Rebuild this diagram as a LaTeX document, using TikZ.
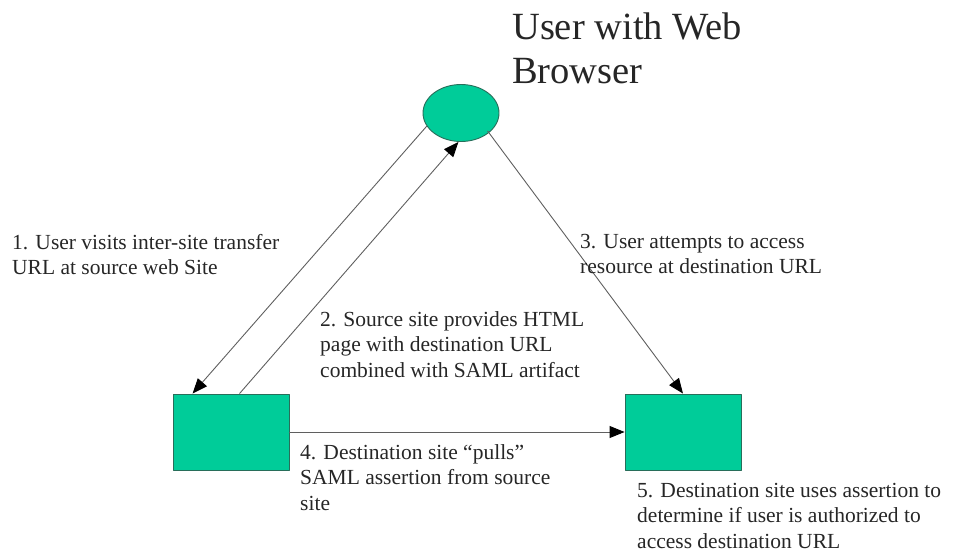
\documentclass[tikz,border=0pt]{standalone}
\usepackage{fontspec}
\setmainfont{Liberation Serif}
\usetikzlibrary{arrows.meta,shapes.geometric}
\definecolor{site}{RGB}{0,204,153}
\definecolor{siteline}{RGB}{40,110,90}
\definecolor{wire}{RGB}{95,95,95}
\begin{document}
\begin{tikzpicture}[x=1pt, y=-1pt, >={Triangle[length=15pt,width=12pt,color=black]}, line join=round,
  box/.style={draw=siteline, fill=site, line width=0.9pt, minimum width=116pt, minimum height=76pt, inner sep=0pt},
  msg/.style={anchor=north west, inner sep=0pt, align=left, font=\fontsize{21.5}{25.5}\selectfont, text=black!85},
  wire/.style={draw=wire, line width=0.9pt}]
\useasboundingbox (0,0) rectangle (955,552); % khung hinh
% Ba nut: nguoi dung, site nguon, site dich
\node[ellipse, draw=siteline, fill=site, line width=0.9pt, minimum width=76pt, minimum height=57pt, inner sep=0pt] (user) at (461,113) {};
\node[box] (src) at (231,432) {};
\node[box] (dst) at (683,432) {};
\node[anchor=north west, inner sep=0pt, align=left, font=\fontsize{38.5}{44}\selectfont, text=black!85] (title) at (512,13) {User with Web\\Browser};
% Cac mui ten
\draw[wire,->] (user.201)--([xshift=20pt]src.north west);
\draw[wire,->] ([xshift=67pt]src.north west)--(user.265);
\draw[wire,->] ([shift={(5pt,6pt)}]user.312)--(dst.north);
\draw[wire,->] (src.east)--(dst.west);
% Chu thich cac buoc
\node[msg] (step1) at (12,234) {1. User visits inter-site transfer\\URL at source web Site};
\node[msg] (step2) at (320,311) {2. Source site provides HTML\\page with destination URL\\combined with SAML artifact};
\node[msg] (step3) at (580,234) {3. User attempts to access\\resource at destination URL};
\node[msg] (step4) at (300,444) {4. Destination site ``pulls''\\SAML assertion from source\\site};
\node[msg] (step5) at (637,483) {5. Destination site uses assertion to\\determine if user is authorized to\\access destination URL};
\end{tikzpicture}
\end{document}
